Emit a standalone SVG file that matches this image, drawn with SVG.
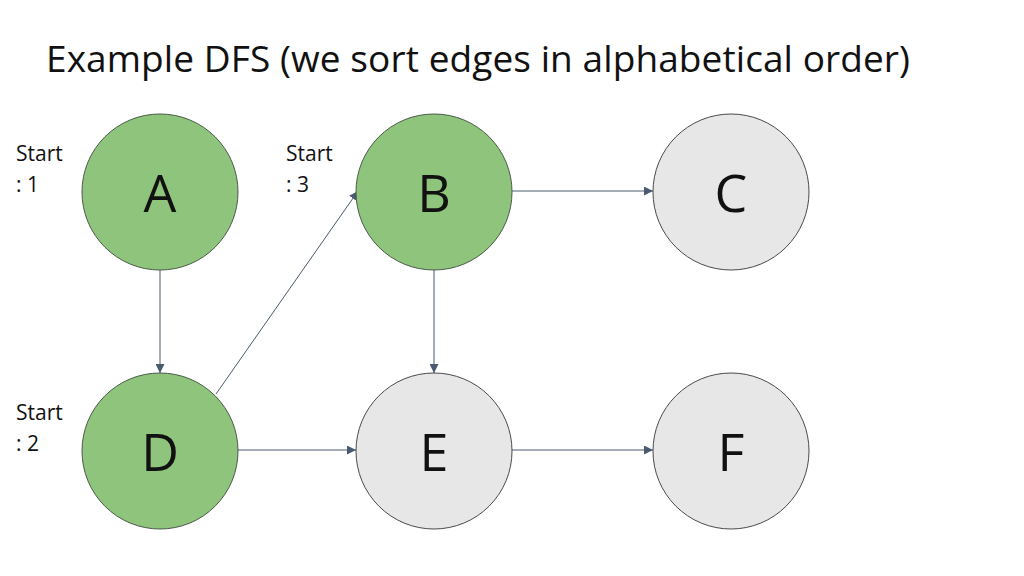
<svg xmlns="http://www.w3.org/2000/svg" width="1024" height="576" viewBox="0 0 1024 576">
<style>
.g{fill:#8fc47c;stroke:#4a5a48;stroke-width:1}
.w{fill:#e7e7e7;stroke:#4a4a4a;stroke-width:1}
.l{font-family:"Open Sans","Liberation Sans",sans-serif;font-size:52px;fill:#111;text-anchor:middle}
.s{font-family:"Open Sans","Liberation Sans",sans-serif;font-size:21px;fill:#111}
.e{stroke:#4a5a70;stroke-width:1;fill:none;marker-end:url(#a)}
</style>
<defs><marker id="a" viewBox="0 0 10 10" refX="10" refY="5" markerWidth="9" markerHeight="9" markerUnits="userSpaceOnUse" orient="auto"><path d="M0,0L10,5L0,10z" fill="#4a5a70"/></marker></defs>
<rect width="1024" height="576" fill="#fff"/>
<text x="46" y="72" font-family="Open Sans,Liberation Sans,sans-serif" font-size="37" fill="#111" textLength="864">Example DFS (we sort edges in alphabetical order)</text>
<g id="edges">
<line class="e" x1="160" y1="270" x2="160" y2="373"/>
<line class="e" x1="216" y1="394" x2="358" y2="191"/>
<line class="e" x1="512" y1="191" x2="653" y2="191"/>
<line class="e" x1="434" y1="270" x2="434" y2="373"/>
<line class="e" x1="238" y1="450" x2="356" y2="450"/>
<line class="e" x1="512" y1="450" x2="653" y2="450"/>
</g>
<g id="A"><circle class="g" cx="160" cy="192" r="78"/><text class="l" x="160" y="212">A</text></g>
<g id="B"><circle class="g" cx="434" cy="192" r="78"/><text class="l" x="434" y="212">B</text></g>
<g id="C"><circle class="w" cx="731" cy="192" r="78"/><text class="l" x="731" y="212">C</text></g>
<g id="D"><circle class="g" cx="160" cy="451" r="78"/><text class="l" x="160" y="471">D</text></g>
<g id="E"><circle class="w" cx="434" cy="451" r="78"/><text class="l" x="434" y="471">E</text></g>
<g id="F"><circle class="w" cx="731" cy="451" r="78"/><text class="l" x="731" y="471">F</text></g>
<g id="labels">
<text class="s" x="16" y="161">Start</text><text class="s" x="16" y="192">: 1</text>
<text class="s" x="286" y="161">Start</text><text class="s" x="286" y="192">: 3</text>
<text class="s" x="16" y="420">Start</text><text class="s" x="16" y="451">: 2</text>
</g>
</svg>
